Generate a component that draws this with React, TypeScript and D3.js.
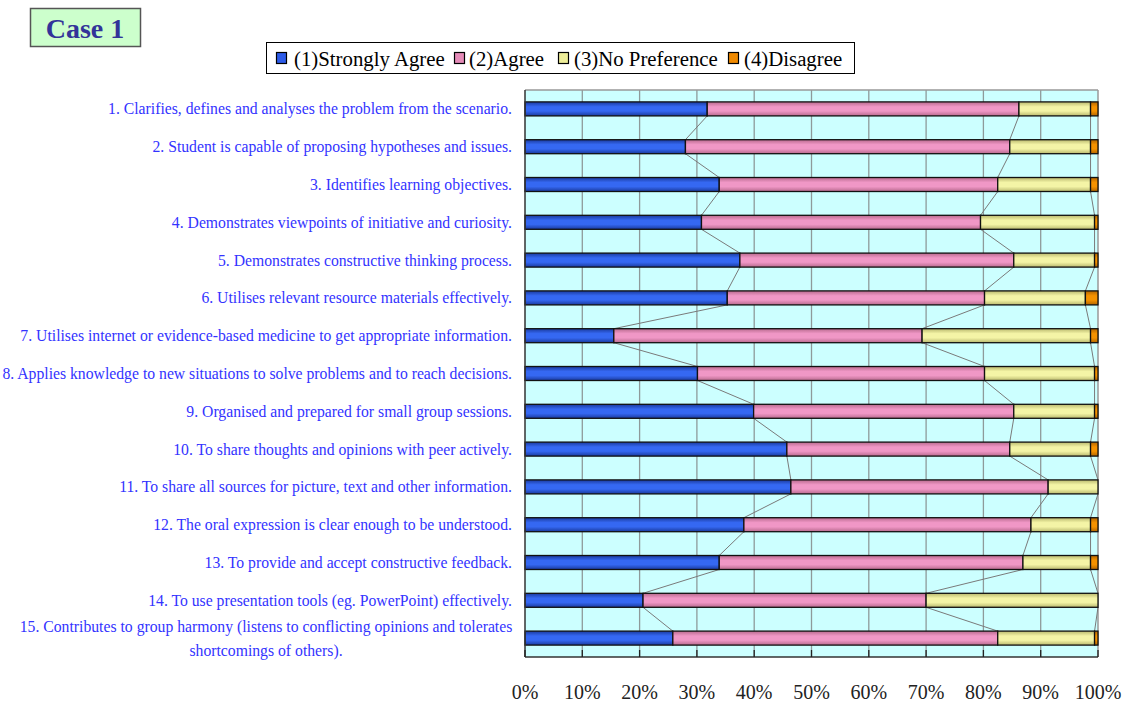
import React from "react";
import * as d3 from "d3";

const categories: string[] = [
  "1. Clarifies, defines and analyses the problem from the scenario.",
  "2. Student is capable of proposing hypotheses and issues.",
  "3. Identifies learning objectives.",
  "4. Demonstrates viewpoints of initiative and curiosity.",
  "5. Demonstrates constructive thinking process.",
  "6. Utilises relevant resource materials effectively.",
  "7. Utilises internet or evidence-based medicine to get appropriate information.",
  "8. Applies knowledge to new situations to solve problems and to reach decisions.",
  "9. Organised and prepared for small group sessions.",
  "10. To share thoughts and opinions with peer actively.",
  "11. To share all sources for picture, text and other information.",
  "12. The oral expression is clear enough to be understood.",
  "13. To provide and accept constructive feedback.",
  "14. To use presentation tools (eg. PowerPoint) effectively.",
  "15. Contributes to group harmony (listens to conflicting opinions and tolerates|shortcomings of others).",
];

const seriesNames: string[] = ["(1)Strongly Agree", "(2)Agree", "(3)No Preference", "(4)Disagree"];

const stronglyAgree: number[] = [31.8, 28.0, 33.9, 30.8, 37.5, 35.3, 15.5, 30.1, 39.9, 45.7, 46.4, 38.2, 33.9, 20.6, 25.8];
const agree: number[] = [54.4, 56.6, 48.6, 48.7, 47.8, 44.9, 53.8, 50.1, 45.4, 38.9, 44.9, 50.1, 53.0, 49.4, 56.7];
const noPreference: number[] = [12.5, 14.1, 16.2, 19.9, 14.1, 17.6, 29.4, 19.2, 14.1, 14.1, 8.7, 10.4, 11.8, 30.0, 16.9];
const disagree: number[] = [1.3, 1.3, 1.3, 0.6, 0.6, 2.2, 1.3, 0.6, 0.6, 1.3, 0, 1.3, 1.3, 0, 0.6];

const tickValues: number[] = [0, 10, 20, 30, 40, 50, 60, 70, 80, 90, 100];

const seriesColors = [
  { light: "#3568F2", dark: "#1A3A9E" },
  { light: "#F097C6", dark: "#B86A8E" },
  { light: "#F4F4A6", dark: "#B9B86E" },
  { light: "#F59200", dark: "#B36500" },
];
const legendSwatch = ["#2D5BE8", "#E58BB8", "#EEEE99", "#F08A00"];

export default function App() {
  const W = 1124, H = 705;
  const left = 525, right = 1098, top = 90, bottom = 657;
  const x = d3.scaleLinear().domain([0, 100]).range([left, right]);
  const y = d3.scaleBand<number>().domain(d3.range(categories.length)).range([top, bottom]).paddingInner(0).paddingOuter(0);
  const bh = 14;

  const rows = categories.map((c, i) => ({
    i,
    s0: stronglyAgree[i],
    s1: agree[i],
    s2: noPreference[i],
    s3: disagree[i],
  }));
  rows.forEach((r) => {
    const t = r.s0 + r.s1 + r.s2 + r.s3;
    r.s0 = (r.s0 / t) * 100; r.s1 = (r.s1 / t) * 100; r.s2 = (r.s2 / t) * 100; r.s3 = (r.s3 / t) * 100;
  });
  const stack = d3.stack<any>().keys(["s0", "s1", "s2", "s3"]);
  const stacked = stack(rows);

  const cy = (i: number) => (y(i) as number) + y.bandwidth() / 2;

  const seriesLines: { x1: number; y1: number; x2: number; y2: number }[] = [];
  for (let k = 0; k < 3; k++) {
    for (let i = 0; i < categories.length - 1; i++) {
      seriesLines.push({
        x1: x(stacked[k][i][1]),
        y1: cy(i) + bh / 2,
        x2: x(stacked[k][i + 1][1]),
        y2: cy(i + 1) - bh / 2,
      });
    }
  }

  const labelColor = "#3333FF";
  const serif = "'Liberation Serif', 'DejaVu Serif', serif";
  const sx = 0.925;

  const legendItems = [
    { sx: 276, tx: 294 },
    { sx: 454, tx: 469 },
    { sx: 558, tx: 574 },
    { sx: 728, tx: 744 },
  ];

  return (
    <svg width={W} height={H} style={{ position: "absolute", left: 0, top: 0, background: "#fff" }}>
      <defs>
        {seriesColors.map((c, k) => (
          <linearGradient key={k} id={`g${k}`} x1="0" y1="0" x2="0" y2="1">
            <stop offset="0%" stopColor={c.dark} />
            <stop offset="35%" stopColor={c.light} />
            <stop offset="65%" stopColor={c.light} />
            <stop offset="100%" stopColor={c.dark} />
          </linearGradient>
        ))}
      </defs>
      <rect x={0} y={0} width={W} height={H} fill="#fff" />

      {/* Title box */}
      <rect x={30.5} y={8.5} width={110} height={38} fill="#CCFFCC" stroke="#555" strokeWidth={1.5} />
      <text x={85} y={38} textAnchor="middle" fontFamily={serif} fontWeight="bold" fontSize={28} fill="#333399">
        Case 1
      </text>

      {/* Legend */}
      <rect x={266.5} y={42.5} width={588} height={31} fill="#fff" stroke="#000" strokeWidth={1} />
      {seriesNames.map((n, k) => (
        <g key={n}>
          <rect x={legendItems[k].sx + 0.5} y={52.5} width={10} height={11} fill={legendSwatch[k]} stroke="#000" strokeWidth={1.2} />
          <text x={legendItems[k].tx} y={65.5} fontFamily={serif} fontSize={20.8} fill="#000">
            {n}
          </text>
        </g>
      ))}

      {/* Plot background */}
      <rect x={left} y={top} width={right - left} height={bottom - top} fill="#CCFFFF" />
      {tickValues.slice(1, -1).map((t) => (
        <line key={t} x1={x(t)} x2={x(t)} y1={top} y2={bottom} stroke="#8E9A9A" strokeWidth={1.3} />
      ))}
      <line x1={left} x2={right} y1={top} y2={top} stroke="#999" strokeWidth={1.5} />
      <line x1={right} x2={right} y1={top} y2={bottom} stroke="#999" strokeWidth={1.5} />

      {/* series lines */}
      {seriesLines.map((l, j) => (
        <line key={j} x1={l.x1} y1={l.y1} x2={l.x2} y2={l.y2} stroke="#7A7A7A" strokeWidth={1} />
      ))}

      {/* bars */}
      {stacked.map((s, k) => (
        <g key={k}>
          {s.map((d, i) =>
            d[1] - d[0] > 0.001 ? (
              <rect
                key={i}
                x={x(d[0])}
                y={cy(i) - bh / 2}
                width={x(d[1]) - x(d[0])}
                height={bh}
                fill={`url(#g${k})`}
                stroke="#111"
                strokeWidth={1.3}
              />
            ) : null
          )}
        </g>
      ))}

      {/* axes */}
      <line x1={left} x2={left} y1={top} y2={bottom} stroke="#333" strokeWidth={1.5} />
      <line x1={left} x2={right} y1={bottom} y2={bottom} stroke="#333" strokeWidth={1.5} />
      {tickValues.map((t) => (
        <g key={t}>
          <line x1={x(t)} x2={x(t)} y1={bottom} y2={bottom - 7} stroke="#222" strokeWidth={1.3} />
          <text x={x(t)} y={699} textAnchor="middle" fontFamily={serif} fontSize={20} fill="#222">
            {`${t}%`}
          </text>
        </g>
      ))}

      {/* category labels */}
      {categories.map((c, i) => {
        const parts = c.split("|");
        if (parts.length === 1) {
          return (
            <g key={i} transform={`translate(512, ${cy(i) + 5.5}) scale(${sx}, 1)`}>
              <text x={0} y={0} textAnchor="end" fontFamily={serif} fontSize={17} fill={labelColor}>
                {c}
              </text>
            </g>
          );
        }
        return (
          <g key={i} transform={`translate(266, ${cy(i) + 5.5}) scale(${sx}, 1)`}>
            {parts.map((p, j) => (
              <text key={j} x={0} y={(j - (parts.length - 1) / 2) * 24} textAnchor="middle" fontFamily={serif} fontSize={17} fill={labelColor}>
                {p}
              </text>
            ))}
          </g>
        );
      })}
    </svg>
  );
}
